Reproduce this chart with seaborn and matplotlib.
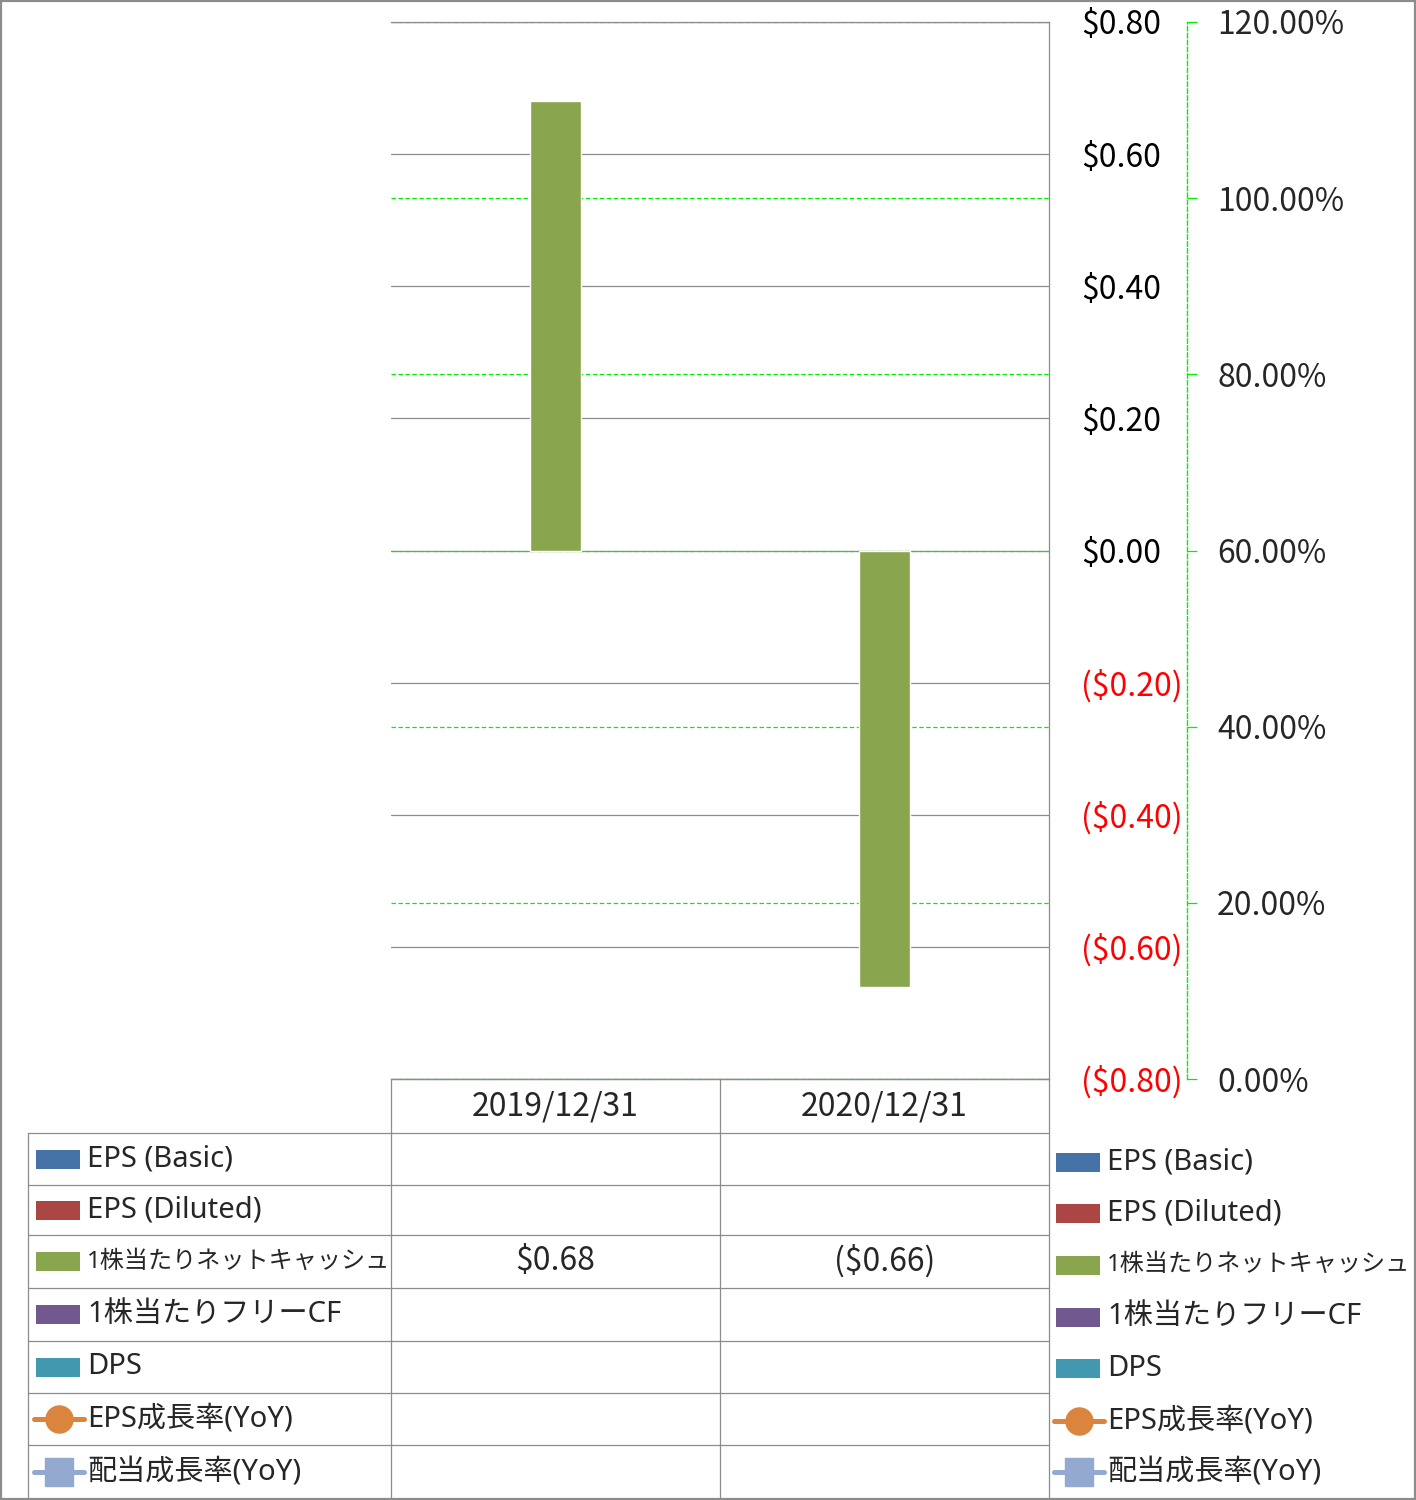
import numpy as np
import pandas as pd
import matplotlib
matplotlib.use("Agg")
import matplotlib.pyplot as plt
from matplotlib.lines import Line2D
from matplotlib.patches import Rectangle
import seaborn as sns

# ---------------- data ----------------
categories = ["2019/12/31", "2020/12/31"]
eps_basic = [np.nan, np.nan]
eps_diluted = [np.nan, np.nan]
net_cash_per_share = [0.68, -0.66]
fcf_per_share = [np.nan, np.nan]
dps = [np.nan, np.nan]
eps_growth = [np.nan, np.nan]
div_growth = [np.nan, np.nan]

bar_series = ["EPS (Basic)", "EPS (Diluted)", "1株当たりネットキャッシュ", "1株当たりフリーCF", "DPS"]
line_series = ["EPS成長率(YoY)", "配当成長率(YoY)"]
bar_colors = ["#4572A7", "#AA4643", "#89A54E", "#71588F", "#4198AF"]
line_colors = ["#DB843D", "#93A9CF"]
primary_ticks = [-0.8, -0.6, -0.4, -0.2, 0.0, 0.2, 0.4, 0.6, 0.8]
secondary_ticks = [0.0, 0.2, 0.4, 0.6, 0.8, 1.0, 1.2]

bar_values = [eps_basic, eps_diluted, net_cash_per_share, fcf_per_share, dps]
line_values = [eps_growth, div_growth]

df = pd.DataFrame({
    "date": np.repeat([categories], len(bar_series), axis=0).ravel(),
    "series": np.repeat(bar_series, len(categories)),
    "value": np.concatenate([np.asarray(v, float) for v in bar_values]),
})

# ---------------- style ----------------
sns.set_style("white")
plt.rcParams["font.family"] = ["Noto Sans CJK JP", "DejaVu Sans"]
plt.rcParams["lines.scale_dashes"] = False
LEG_FAMILY = ["Noto Sans", "Noto Sans CJK JP", "DejaVu Sans"]

W, H = 1416, 1500
fig = plt.figure(figsize=(W / 100, H / 100), dpi=100)

def fx(px):
    return px / W

def fy(py):
    return 1 - py / H

GRAY = "#8C8C8C"
GREEN = "#00F000"
DASH = (0, (3.2, 1.8))

L, R, T, B = 391, 1049, 22, 1079
ax = fig.add_axes([fx(L), fy(B), (R - L) / W, (B - T) / H])
ax2 = ax.twinx()

sns.barplot(data=df, x="date", y="value", hue="series", hue_order=bar_series,
            palette=bar_colors, width=0.775, saturation=1, errorbar=None,
            legend=False, ax=ax, zorder=3)

ax.set_ylim(-0.8, 0.8)
ax.set_xlim(-0.5, 1.5)
ax.set_xlabel("")
ax.set_ylabel("")
ax.set_xticks([])
ax.yaxis.tick_right()
ax.set_yticks(primary_ticks)
labels = [f"${v:.2f}" if v >= -1e-9 else f"(${-v:.2f})" for v in primary_ticks]
ax.set_yticklabels(labels)
for lab, v in zip(ax.get_yticklabels(), primary_ticks):
    lab.set_color("red" if v < -1e-9 else "black")
ax.tick_params(axis="y", length=0, pad=23, labelsize=23)
ax.grid(axis="y", color=GRAY, linewidth=0.9, zorder=1)
ax.set_axisbelow(True)
ax.spines["left"].set_visible(False)
for s in ["top", "right", "bottom"]:
    ax.spines[s].set_color(GRAY)
    ax.spines[s].set_linewidth(0.9)

# secondary axis
ax2.set_ylim(0, 1.2)
ax2.set_yticks(secondary_ticks)
ax2.set_yticklabels([f"{v * 100:.2f}%" for v in secondary_ticks])
ax2.tick_params(axis="y", length=7, width=0.9, color=GREEN, pad=15, labelsize=23)
ax2.grid(axis="y", color=GREEN, linewidth=0.9, linestyle=DASH)
for s in ["left", "top", "bottom"]:
    ax2.spines[s].set_visible(False)
ax2.spines["right"].set_position(("outward", 99))
ax2.spines["right"].set_color(GREEN)
ax2.spines["right"].set_linestyle(DASH)
ax2.spines["right"].set_linewidth(1.0)
ax.set_zorder(ax2.get_zorder() + 1)
ax.patch.set_visible(False)

# ---------------- data table ----------------
def hline(y, x0, x1):
    fig.add_artist(Line2D([fx(x0), fx(x1)], [fy(y), fy(y)], color=GRAY, lw=0.9))

def vline(x, y0, y1):
    fig.add_artist(Line2D([fx(x), fx(x)], [fy(y0), fy(y1)], color=GRAY, lw=0.9))

row_edges = [1133, 1185, 1235, 1288, 1341, 1393, 1445, 1498]
col_edges = [391, 720, 1049]
hline(1079, 391, 1049)
for y in row_edges[:-1]:
    hline(y, 28, 1049)
vline(28, 1133, 1498)
for x in col_edges:
    vline(x, 1079, 1498)

col_centers = [(col_edges[i] + col_edges[i + 1]) / 2 for i in range(len(categories))]
for c, cat in zip(col_centers, categories):
    fig.text(fx(c), fy(1106), cat, ha="center", va="center", fontsize=23)

all_series = bar_series + line_series
all_values = bar_values + line_values
all_colors = bar_colors + line_colors

def fmt(v):
    if v is None or np.isnan(v):
        return ""
    return f"${v:.2f}" if v >= 0 else f"(${-v:.2f})"

def draw_key(i, x0, yc):
    col = all_colors[i]
    if i < len(bar_series):
        fig.add_artist(Rectangle((fx(x0), fy(yc + 9.5)), 44 / W, 19 / H,
                                 facecolor=col, edgecolor="none"))
    else:
        fig.add_artist(Line2D([fx(x0 - 2), fx(x0 + 48)], [fy(yc), fy(yc)],
                              color=col, lw=3.6, solid_capstyle="round"))
        marker = "o" if i == len(bar_series) else "s"
        fig.add_artist(Line2D([fx(x0 + 23)], [fy(yc)], marker=marker,
                              markersize=19.5, color=col, markeredgecolor=col,
                              linestyle="none"))

def leg_size(name):
    # the long katakana entry is set smaller so that it fits its cell
    n_wide = sum(1 for ch in name if ord(ch) > 0x2000)
    return 17.4 if n_wide > 8 else 21

legend_rows = [1162, 1213, 1265, 1317, 1368, 1421, 1472]
for i, name in enumerate(all_series):
    yc = (row_edges[i] + row_edges[i + 1]) / 2
    draw_key(i, 36, yc)
    fig.text(fx(87), fy(yc), name, ha="left", va="center",
             fontsize=leg_size(name), family=LEG_FAMILY)
    for c, v in zip(col_centers, all_values[i]):
        t = fmt(v)
        if t:
            fig.text(fx(c), fy(yc), t, ha="center", va="center", fontsize=23)
    # right-hand legend
    draw_key(i, 1056, legend_rows[i])
    fig.text(fx(1107), fy(legend_rows[i]), name, ha="left", va="center",
             fontsize=leg_size(name), family=LEG_FAMILY)

# figure border
fig.add_artist(Rectangle((0.0007, 0.0007), 0.9986, 0.9986, fill=False,
                         edgecolor=GRAY, lw=1.6, transform=fig.transFigure))

fig.savefig("out.png", dpi=100)
